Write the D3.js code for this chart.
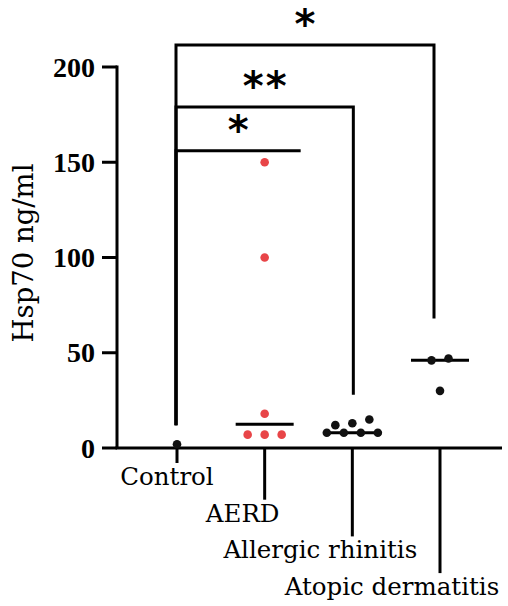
<!DOCTYPE html>
<html>
<head>
<meta charset="utf-8">
<script src="https://cdn.jsdelivr.net/npm/d3@7"></script>
<style>
  html, body { margin: 0; padding: 0; background: #fff; }
  svg { display: block; }
</style>
</head>
<body>
<script>
// data
const categories = ["Control", "AERD", "Allergic rhinitis", "Atopic dermatitis"];
const controlValues = [2];
const aerdValues = [150, 100, 18, 7, 7, 7];
const rhinitisValues = [12, 8, 8, 8, 13, 8, 15];
const dermatitisValues = [47, 46, 30];
const yTicks = [0, 50, 100, 150, 200];
const yLabel = "Hsp70 ng/ml";

// significance brackets: [from, to, label]
const comparisons = [
  ["Control", "AERD", "*"],
  ["Control", "Allergic rhinitis", "**"],
  ["Control", "Atopic dermatitis", "*"],
];

const groups = [controlValues, aerdValues, rhinitisValues, dermatitisValues];
const dotColors = ["#111", "#e84548", "#111", "#111"];

const width = 508;
const height = 606;

const svg = d3
  .select("body")
  .append("svg")
  .attr("width", width)
  .attr("height", height);

const y = d3.scaleLinear().domain([0, 200]).range([448, 67]);
const x = d3.scalePoint().domain(categories).range([177, 440]);
const axisLeft = 117;
const axisRight = 502;
const stroke = 3;

// y axis
svg
  .append("line")
  .attr("x1", axisLeft)
  .attr("x2", axisLeft)
  .attr("y1", y(200) - stroke / 2)
  .attr("y2", y(0))
  .attr("stroke", "#000")
  .attr("stroke-width", stroke);

const yAxis = svg.append("g");
yAxis
  .selectAll("line")
  .data(yTicks)
  .join("line")
  .attr("x1", axisLeft - 15)
  .attr("x2", axisLeft)
  .attr("y1", (d) => y(d))
  .attr("y2", (d) => y(d))
  .attr("stroke", "#000")
  .attr("stroke-width", stroke);

yAxis
  .selectAll("text")
  .data(yTicks)
  .join("text")
  .attr("x", axisLeft - 22)
  .attr("y", (d) => y(d))
  .attr("dy", "0.34em")
  .attr("text-anchor", "end")
  .attr("font-family", "Liberation Serif, serif")
  .attr("font-weight", "bold")
  .attr("font-size", 28)
  .text((d) => d);

svg
  .append("text")
  .attr("transform", `translate(33, 253) rotate(-90)`)
  .attr("text-anchor", "middle")
  .attr("font-family", "DejaVu Serif, serif")
  .attr("font-size", 27.5)
  .text(yLabel);

// x axis
svg
  .append("line")
  .attr("x1", axisLeft - stroke / 2)
  .attr("x2", axisRight)
  .attr("y1", y(0))
  .attr("y2", y(0))
  .attr("stroke", "#000")
  .attr("stroke-width", stroke);

const rowStep = 36.7;
const labelShift = [-10, -22, -32, -48];

const xAxis = svg.append("g");
xAxis
  .selectAll("line")
  .data(categories)
  .join("line")
  .attr("x1", (d) => x(d))
  .attr("x2", (d) => x(d))
  .attr("y1", y(0))
  .attr("y2", (d, i) => y(0) + 15 + rowStep * i)
  .attr("stroke", "#000")
  .attr("stroke-width", stroke);

xAxis
  .selectAll("text")
  .data(categories)
  .join("text")
  .attr("x", (d, i) => x(d) + labelShift[i])
  .attr("y", (d, i) => y(0) + 37 + rowStep * i)
  .attr("text-anchor", "middle")
  .attr("font-family", "DejaVu Serif, serif")
  .attr("font-size", 24.5)
  .text((d) => d);

// scatter with simple binned spread
const r = 4.3;
const spread = 17;
function layout(values) {
  const sorted = values.slice().sort(d3.ascending);
  const bins = [];
  for (const v of sorted) {
    const last = bins[bins.length - 1];
    if (last && Math.abs(y(v) - y(last[0])) < 6) last.push(v);
    else bins.push([v]);
  }
  const pts = [];
  for (const b of bins) {
    b.forEach((v, j) => pts.push({ v, dx: (j - (b.length - 1) / 2) * spread }));
  }
  return pts;
}

groups.forEach((values, i) => {
  const cx = x(categories[i]);
  const g = svg.append("g");
  if (values.length > 1) {
    const m = d3.median(values);
    g.append("line")
      .attr("x1", cx - 29)
      .attr("x2", cx + 29)
      .attr("y1", y(m))
      .attr("y2", y(m))
      .attr("stroke", "#000")
      .attr("stroke-width", stroke);
  }
  g.selectAll("circle")
    .data(layout(values))
    .join("circle")
    .attr("cx", (d) => cx + d.dx)
    .attr("cy", (d) => y(d.v))
    .attr("r", r)
    .attr("fill", dotColors[i]);
});

// brackets
const levels = [156, 179, 211.5];
const rightLegEnd = [null, 28, 68];
const rightShift = [36, 1, -6];
const leftLegEnd = 12;

const br = svg.append("g").attr("fill", "none").attr("stroke", "#000").attr("stroke-width", stroke);
comparisons.forEach(([a, b, label], i) => {
  const x0 = x(a) - 1;
  const x1 = x(b) + rightShift[i];
  const yl = y(levels[i]);
  let d = `M${x0},${y(leftLegEnd)}V${yl}H${x1}`;
  if (rightLegEnd[i] != null) d += `V${y(rightLegEnd[i])}`;
  br.append("path").attr("d", d);

  svg
    .append("text")
    .attr("x", (x0 + x1) / 2 + (label.length > 1 ? 1 : 0))
    .attr("y", yl - 7)
    .attr("text-anchor", "middle")
    .attr("font-family", "DejaVu Sans, sans-serif")
    .attr("font-weight", "bold")
    .attr("font-size", 40)
    .attr("letter-spacing", label.length > 1 ? 2 : 0)
    .text(label);
});
</script>
</body>
</html>
